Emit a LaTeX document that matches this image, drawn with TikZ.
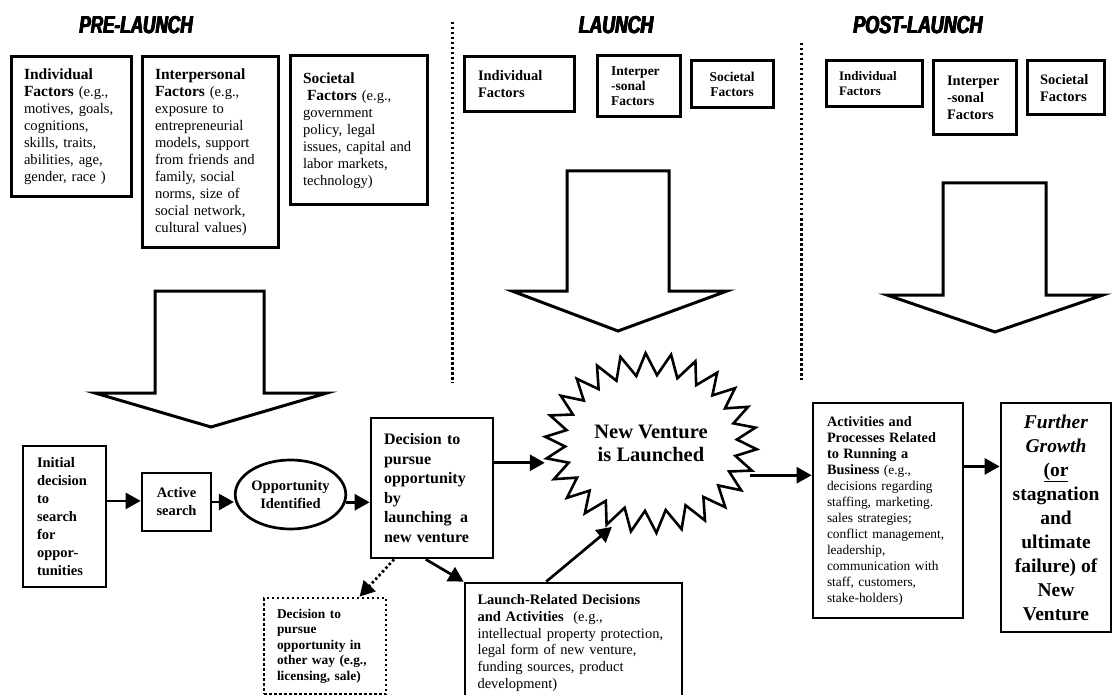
\documentclass[tikz,border=0pt]{standalone}
\usepackage{fontspec}
\setmainfont{Liberation Serif}
\newfontfamily\titlefont{Liberation Sans}
\usepackage{graphicx}
\usetikzlibrary{arrows.meta,shapes.geometric}
\newcommand{\hdA}[1]{{\fontsize{15.5}{17}\selectfont\bfseries #1}}
\newcommand{\hdB}[1]{{\fontsize{14.3}{16}\selectfont\bfseries #1}}
\newcommand{\heavytxt}[1]{\leavevmode\rlap{#1}\rlap{\kern0.7pt#1}\rlap{\kern0.35pt\raise0.5pt\hbox{#1}}\rlap{\kern1.4pt#1}\kern1.4pt#1}
\tikzset{
  fbox/.style={draw, line width=3pt, inner sep=0pt, align=left, font=\fontsize{14.6}{17}\selectfont},
  lbox/.style={draw, line width=3pt, inner sep=0pt, align=left},
  bbox/.style={draw, line width=2.7pt, inner sep=0pt, align=left},
  conn/.style={line width=2.7pt, -{Triangle[length=15pt,width=16pt]}},
  dotconn/.style={conn, dash pattern=on 2.5pt off 2.5pt},
  divider/.style={line width=3pt, dash pattern=on 2.5pt off 2.5pt},
  bigarrow/.style={line width=3pt, line join=miter},
  starline/.style={line width=2.6pt, line join=miter},
  title/.style={inner sep=0pt, font=\titlefont\bfseries\itshape\fontsize{24.5}{24.5}\selectfont},
}
\begin{document}
\begin{tikzpicture}[x=1pt,y=-1pt]
\fill[white] (0,0) rectangle (1113,695);
\useasboundingbox (0,0) rectangle (1113,695);

% titles
\node[title] (tpre) at (136,25) {\scalebox{0.70}[1]{\heavytxt{PRE-LAUNCH}}};
\node[title] (tlaunch) at (616,25) {\scalebox{0.72}[1]{\heavytxt{LAUNCH}}};
\node[title] (tpost) at (918,25) {\scalebox{0.73}[1]{\heavytxt{POST-LAUNCH}}};

% dividers
\coordinate (d1a) at (452,22); \coordinate (d1b) at (452,383);
\coordinate (d2a) at (801,43); \coordinate (d2b) at (801,380);
\draw[divider] (d1a) -- (d1b);
\draw[divider] (d2a) -- (d2b);

% pre-launch factor boxes
\node[fbox, minimum width=120pt, minimum height=140pt, text width=94pt] (pind) at (71,127)
 {\hdA{Individual}\\\hdA{Factors} (e.g.,\\motives, goals,\\cognitions,\\skills, traits,\\abilities, age,\\gender, race )};
\node[fbox, minimum width=136pt, minimum height=190pt, text width=110pt] (pint) at (210,152)
 {\hdA{Interpersonal}\\\hdA{Factors} (e.g.,\\exposure to\\entrepreneurial\\models, support\\from friends and\\family, social\\norms, size of\\social network,\\cultural values)};
\node[fbox, minimum width=137pt, minimum height=149pt, text width=111pt] (psoc) at (358.5,130.5)
 {\hdA{Societal}\\\hspace{4pt}\hdA{Factors} (e.g.,\\government\\policy, legal\\issues, capital and\\labor markets,\\technology)};

% launch factor boxes
\node[lbox, font=\bfseries\fontsize{14.5}{17}\selectfont, minimum width=110pt, minimum height=55pt, text width=82pt] (lind) at (519,84.5) {Individual\\Factors};
\node[lbox, font=\bfseries\fontsize{13.5}{15}\selectfont, minimum width=83pt, minimum height=61pt, text width=55pt] (lint) at (638.5,86.5) {Interper\\-sonal\\Factors};
\node[lbox, align=center, font=\bfseries\fontsize{13.5}{15.5}\selectfont, minimum width=82pt, minimum height=47pt] (lsoc) at (732,84.5) {Societal\\Factors};

% post-launch factor boxes
\node[lbox, font=\bfseries\fontsize{13}{15}\selectfont, minimum width=96pt, minimum height=46pt, text width=70pt] (qind) at (874,84) {Individual\\Factors};
\node[lbox, font=\bfseries\fontsize{14.5}{17}\selectfont, minimum width=83pt, minimum height=74pt, text width=55pt] (qint) at (974.5,98) {Interper\\-sonal\\Factors};
\node[lbox, font=\bfseries\fontsize{14.5}{17}\selectfont, minimum width=77pt, minimum height=54pt, text width=51pt] (qsoc) at (1065.5,88) {Societal\\Factors};

% big block arrows
\draw[bigarrow] (155,291) -- (264,291) -- (264,393) -- (327,393) -- (211,427) -- (95,393) -- (155,393) -- cycle;
\draw[bigarrow] (567,171) -- (669,171) -- (669,291) -- (727,291) -- (618,331) -- (512,291) -- (567,291) -- cycle;
\draw[bigarrow] (943,183) -- (1046,183) -- (1046,295) -- (1103,295) -- (995,332) -- (887,295) -- (943,295) -- cycle;

% process chain
\node[bbox, font=\bfseries\fontsize{14.5}{18}\selectfont, minimum width=83pt, minimum height=141pt, text width=55pt] (init) at (64.5,516.5)
 {Initial\\decision\\to\\search\\for\\oppor-\\tunities};
\node[bbox, align=center, font=\bfseries\fontsize{14.5}{18}\selectfont, minimum width=69pt, minimum height=58pt] (act) at (176.5,502) {Active\\search};
\node[draw, ellipse, line width=2.7pt, inner sep=0pt, align=center, font=\bfseries\fontsize{14.5}{18}\selectfont, minimum width=109pt, minimum height=69pt] (opp) at (290.5,494.5) {Opportunity\\Identified};
\node[bbox, font=\bfseries\fontsize{16}{19.5}\selectfont, minimum width=122pt, minimum height=140pt, text width=96pt] (dec) at (432,488)
 {Decision to\\pursue\\opportunity\\by\\launching\hspace{8.5pt}a\\new venture};
\node[bbox, dash pattern=on 2.5pt off 2.5pt, font=\bfseries\fontsize{13.4}{15.5}\selectfont, minimum width=122pt, minimum height=96pt, text width=96pt] (alt) at (325,646)
 {Decision to\\pursue\\opportunity in\\other way (e.g.,\\licensing, sale)};
\node[bbox, font=\fontsize{14.5}{16.7}\selectfont, minimum width=217pt, minimum height=120pt, text width=192pt] (lr) at (573.5,643)
 {\textbf{Launch-Related Decisions}\\\textbf{and Activities}\ \ (e.g.,\\intellectual property protection,\\legal form of new venture,\\funding sources, product\\development)};

% starburst
\draw[starline] plot[domain=0:51, samples=52, variable=\t]
  ({651+(96+10*cos(180*\t))*cos(4+6.923077*\t)}, {443+(79+11*cos(180*\t))*sin(4+6.923077*\t)}) -- cycle;
\node[ellipse, inner sep=0pt, minimum width=212pt, minimum height=180pt, align=center, font=\bfseries\fontsize{20.5}{23}\selectfont] (star) at (651,443) {New Venture\\is Launched};

\node[bbox, font=\fontsize{13.4}{16}\selectfont, minimum width=150pt, minimum height=215pt, text width=122pt] (run) at (888,510.5)
 {\hdB{Activities and}\\\hdB{Processes Related}\\\hdB{to Running a}\\\hdB{Business} (e.g.,\\decisions regarding\\staffing, marketing.\\sales strategies;\\conflict management,\\leadership,\\communication with\\staff, customers,\\stake-holders)};
\node[bbox, align=center, font=\bfseries\fontsize{19.5}{24}\selectfont, minimum width=110pt, minimum height=229pt] (fg) at (1056,517.5)
 {\textit{Further}\\\textit{Growth}\\\underline{(or}\\stagnation\\and\\ultimate\\failure) of\\New\\Venture};

% connectors
\draw[conn] (init.20) -- (init.20 -| act.west);
\draw[conn] (act.east) -- (act.east -| opp.west);
\draw[conn] (opp.-8) -- (opp.-8 -| dec.west);
\draw[conn] (dec.22) -- (dec.22 -| star.west);
\draw[conn] (dec.265) -- (lr.north west);
\draw[dotconn] (dec.242) -- (alt.55);
\draw[conn] (lr.114) -- (star.245);
\draw[conn] (star.-18) -- (star.-18 -| run.west);
\draw[conn] (run.30) -- (run.30 -| fg.west);
\end{tikzpicture}
\end{document}
